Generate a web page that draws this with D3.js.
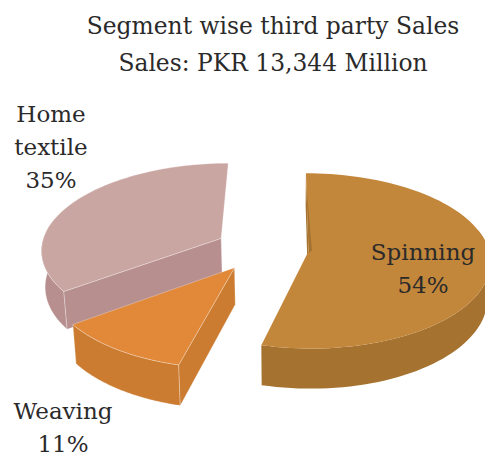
<!DOCTYPE html>
<html>
<head>
<meta charset="utf-8">
<script src="https://cdn.jsdelivr.net/npm/d3@7"></script>
<style>
  html, body { margin: 0; padding: 0; background: #fff; overflow: hidden; }
  text { font-family: "DejaVu Serif", serif; fill: #2b2a2a; text-anchor: middle; }
</style>
</head>
<body>
<svg id="chart" width="485" height="458"></svg>
<script>
// Sales share by segment, clockwise from twelve o'clock
const segments = ["Spinning", "Weaving", "Home textile"];
const shares = [54, 11, 35];
const topColors = ["#c3873c", "#e18839", "#c9a6a2"];
const sideColors = ["#a5722f", "#cb7c31", "#b78f8f"];
const titleLines = ["Segment wise third party Sales", "Sales: PKR 13,344 Million"];

// Label text, in the order of the segments
const labelLines = [["Spinning", "54%"], ["Weaving", "11%"], ["Home", "textile", "35%"]];
const labelAnchors = [[423, 260], [63, 419], [51, 122]];

const svg = d3.select("#chart");

// Perspective view of a pie lying on a plane
const view = { cx: 262, cy: 248.5, vanishX: 285, rx: 180, ry: 87, persp: 0.11, explode: 0.26, depth: 36 };

function project(wx, wy, lower) {
  const s = 1 + view.persp * wy;
  let x = view.vanishX + (view.cx - view.vanishX + view.rx * wx) * s;
  let y = view.cy + view.ry * wy * s;
  if (lower) {
    x = view.vanishX + (x - view.vanishX) * 0.985;
    y += view.depth * s;
  }
  return [x, y];
}

const arcs = d3.pie().sort(null).value(d => d)(shares);
const line = d3.line();

const slices = arcs.map((a, i) => {
  const mid = (a.startAngle + a.endAngle) / 2;
  const ox = view.explode * Math.sin(mid), oy = -view.explode * Math.cos(mid);
  const at = (ang, r, lower) => project(ox + r * Math.sin(ang), oy - r * Math.cos(ang), lower);
  const angles = d3.range(0, 91).map(k => a.startAngle + (a.endAngle - a.startAngle) * k / 90);
  return { i, a, at, angles };
});

// Back slice first, so nearer slices cover it
const plot = svg.append("g");
[2, 0, 1].forEach(idx => {
  const { i, a, at, angles } = slices[idx];
  const g = plot.append("g");
  const side = sideColors[i];
  const edge = i === 0 ? "none" : "#ffffff";
  const style = sel => sel.attr("stroke", edge).attr("stroke-width", 0.7).attr("stroke-opacity", 0.4);

  // outer rim wall, only the part turned towards the viewer
  const front = angles.filter(t => Math.cos(t) < 0.25);
  const rimLow = front.map(t => at(t, 1, true)).reverse();
  g.append("path")
    .attr("d", line(front.map(t => at(t, 1, false)).concat(rimLow)) + "Z")
    .attr("fill", side).call(style);

  // cut wall along the first radius
  const ang = a.startAngle;
  g.append("path")
    .attr("d", line([at(ang, 0, false), at(ang, 1, false), at(ang, 1, true), at(ang, 0, true)]) + "Z")
    .attr("fill", side).call(style);

  // top face
  const rimTop = angles.map(t => at(t, 1, false));
  g.append("path")
    .attr("d", line([at(a.startAngle, 0, false)].concat(rimTop)) + "Z")
    .attr("fill", topColors[i]).call(style);

  // the shaded sliver along the first radius of the largest slice
  if (i === 0) {
    const p0 = at(a.startAngle, 0.8, false), p1 = at(a.startAngle, 0.02, false);
    g.append("path")
      .attr("d", line([p0, [p1[0] + 3.5, p1[1] + 1], [p1[0] + 0.5, p1[1] + 3]]) + "Z")
      .attr("fill", side);
  }
});

// Title
const titleY = d3.scaleOrdinal().domain(titleLines).range([34, 71]);
svg.append("g").selectAll("text").data(titleLines).join("text")
  .attr("x", 273).attr("y", d => titleY(d))
  .style("font-size", "23.4px")
  .text(d => d);

// Segment labels
const labels = svg.append("g");
labelLines.forEach((lines, i) => {
  lines.forEach((t, k) => {
    labels.append("text")
      .attr("x", labelAnchors[i][0])
      .attr("y", labelAnchors[i][1] + k * 33)
      .style("font-size", "23px")
      .text(t);
  });
});
</script>
</body>
</html>
